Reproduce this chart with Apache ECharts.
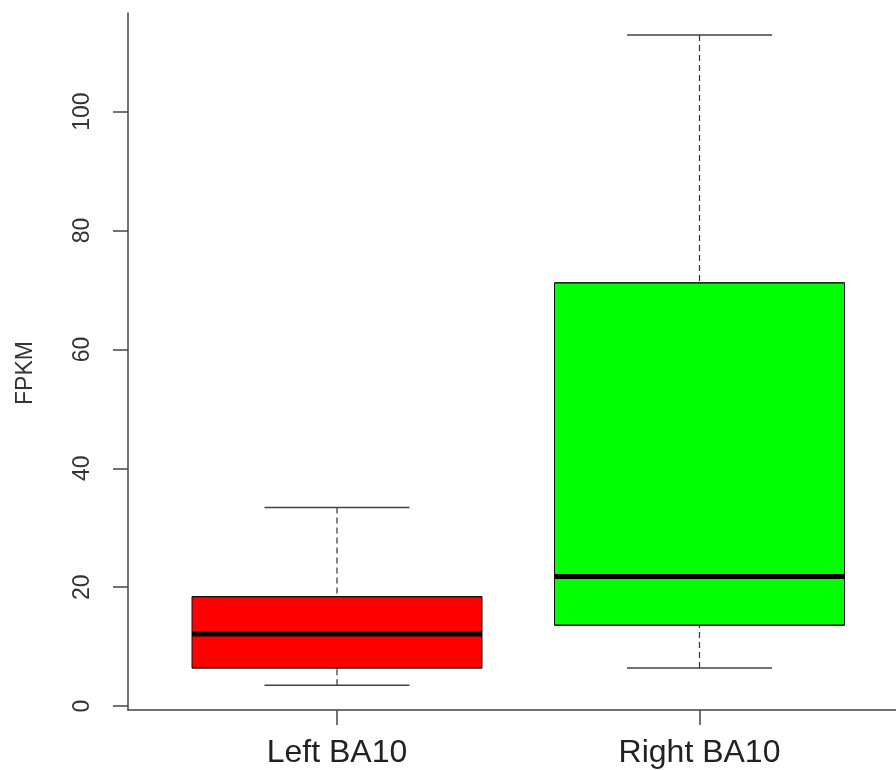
<!DOCTYPE html>
<html>
<head>
<meta charset="utf-8">
<script src="https://cdn.jsdelivr.net/npm/echarts@6/dist/echarts.min.js"></script>
<style>
html,body{margin:0;padding:0;background:#fff;}
#chart{width:896px;height:770px;}
</style>
</head>
<body>
<div id="chart"></div>
<script>
// ---- data ----
const categories = ['Left BA10', 'Right BA10'];
const lowerWhisker = [3.5, 6.4];
const q1 = [6.4, 13.6];
const median = [12.1, 21.8];
const q3 = [18.4, 71.2];
const upperWhisker = [33.4, 112.9];
const yTicks = [0, 20, 40, 60, 80, 100];
const yLabel = 'FPKM';

// ---- styling ----
const boxColors = ['#FF0000', '#00FF00'];
const FONT = 'Liberation Sans, Arial, sans-serif';
const Y_MIN = -0.67, Y_MAX = 116.6;

const chart = echarts.init(document.getElementById('chart'), null, {renderer: 'canvas'});

const hiddenCat = (grid) => ({
  type: 'category', gridIndex: grid, data: categories,
  axisLine: {show: false}, axisTick: {show: false}, axisLabel: {show: false}, splitLine: {show: false}
});

const whiskerData = categories.map((c, i) => [lowerWhisker[i], q1[i], median[i], q3[i], upperWhisker[i]]);
const lowCapData = categories.map((c, i) => [lowerWhisker[i], lowerWhisker[i], lowerWhisker[i], lowerWhisker[i], lowerWhisker[i]]);
const highCapData = categories.map((c, i) => [upperWhisker[i], upperWhisker[i], upperWhisker[i], upperWhisker[i], upperWhisker[i]]);
const boxData = categories.map((c, i) => ({
  value: [q1[i], q1[i], median[i], q3[i], q3[i]],
  itemStyle: {color: boxColors[i]}
}));
const medianData = categories.map((c, i) => [median[i], median[i], median[i], median[i], median[i]]);

const common = {type: 'boxplot', yAxisIndex: 1, silent: true, animation: false, emphasis: {disabled: true}};

chart.setOption({
  backgroundColor: '#ffffff',
  animation: false,
  grid: [
    {left: 128, right: 0, top: 13, bottom: 60},
    {left: 155.75, width: 725, top: 13, bottom: 60}
  ],
  xAxis: [
    {type: 'value', gridIndex: 0, min: 0, max: 1,
     axisLine: {show: true, onZero: false, lineStyle: {color: '#444', width: 1.5}},
     axisTick: {show: false}, axisLabel: {show: false}, splitLine: {show: false}},
    {type: 'category', gridIndex: 1, data: categories,
     axisLine: {show: false, onZero: false},
     axisTick: {show: true, alignWithLabel: true, length: 15, lineStyle: {color: '#444', width: 1.5}},
     axisLabel: {show: true, margin: 27, fontSize: 32, fontFamily: FONT, color: '#222'},
     splitLine: {show: false}},
    hiddenCat(1), hiddenCat(1), hiddenCat(1), hiddenCat(1)
  ],
  yAxis: [
    {type: 'value', gridIndex: 0, min: Y_MIN, max: Y_MAX,
     name: yLabel, nameLocation: 'middle', nameRotate: 90, nameGap: 91,
     nameTextStyle: {fontSize: 23, fontFamily: FONT, color: '#333', padding: [0, 23, 0, 0]},
     axisLine: {show: true, onZero: false, lineStyle: {color: '#444', width: 1.5}},
     axisTick: {show: true, length: 15, customValues: yTicks, lineStyle: {color: '#444', width: 1.5}},
     axisLabel: {show: true, rotate: 90, margin: 34, customValues: yTicks, fontSize: 23, fontFamily: FONT, color: '#333'},
     splitLine: {show: false}},
    {type: 'value', gridIndex: 1, min: Y_MIN, max: Y_MAX, show: false,
     axisLine: {show: false}, axisTick: {show: false}, axisLabel: {show: false}, splitLine: {show: false}}
  ],
  series: [
    Object.assign({}, common, {
      name: 'whiskers', xAxisIndex: 2, z: 2, boxWidth: [1, 1], data: whiskerData,
      itemStyle: {color: 'transparent', borderColor: '#333', borderWidth: 1.2, borderType: [6, 4]}
    }),
    Object.assign({}, common, {
      name: 'lowerCap', xAxisIndex: 3, z: 3, boxWidth: [145, 145], data: lowCapData,
      itemStyle: {color: 'transparent', borderColor: '#444', borderWidth: 1.5}
    }),
    Object.assign({}, common, {
      name: 'upperCap', xAxisIndex: 4, z: 3, boxWidth: [145, 145], data: highCapData,
      itemStyle: {color: 'transparent', borderColor: '#444', borderWidth: 1.5}
    }),
    Object.assign({}, common, {
      name: 'box', xAxisIndex: 1, z: 4, boxWidth: [290, 290], data: boxData,
      itemStyle: {borderColor: '#111', borderWidth: 1}
    }),
    Object.assign({}, common, {
      name: 'median', xAxisIndex: 5, z: 5, boxWidth: [290, 290], data: medianData,
      itemStyle: {color: 'transparent', borderColor: '#000', borderWidth: 5}
    })
  ]
});
</script>
</body>
</html>
